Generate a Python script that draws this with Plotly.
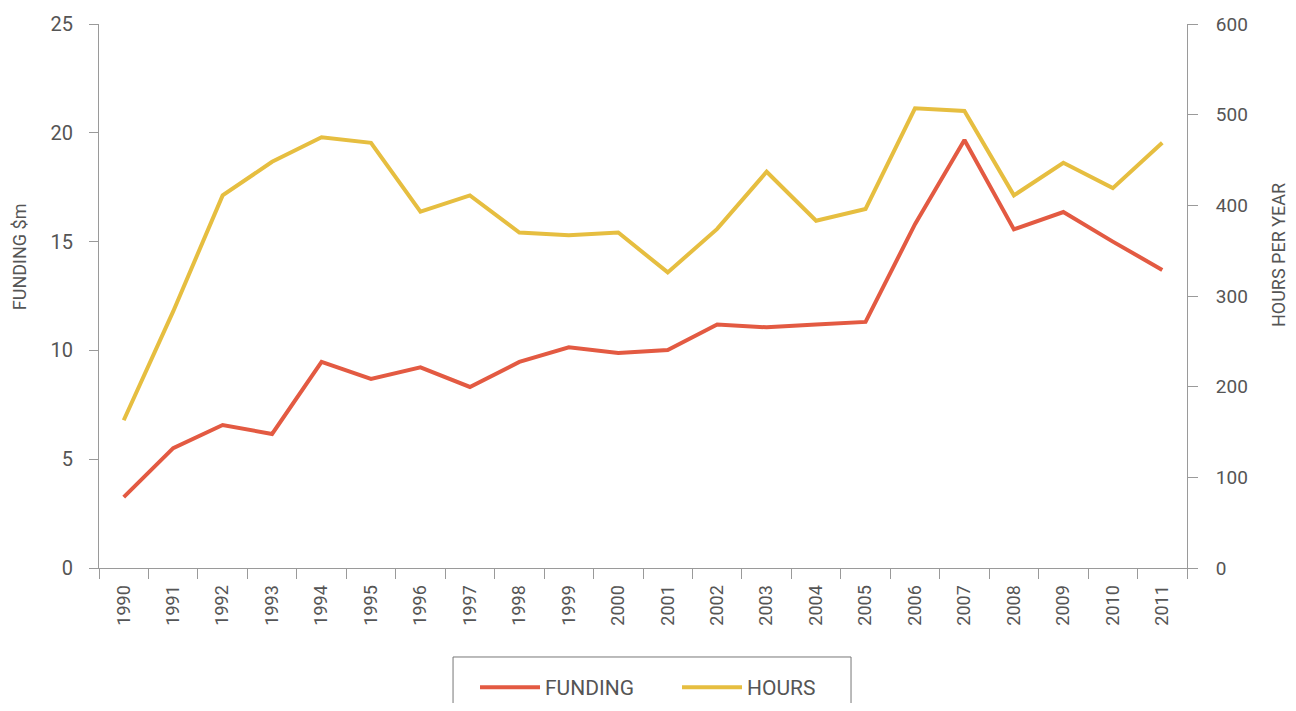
import plotly.graph_objects as go

years = [str(y) for y in range(1990, 2012)]
funding = [3.26, 5.51, 6.57, 6.16, 9.47, 8.69, 9.22, 8.32, 9.47, 10.14, 9.88, 10.02,
           11.19, 11.06, 11.19, 11.31, 15.8, 19.67, 15.56, 16.36, 15.0, 13.7]
hours = [163, 283, 411, 448, 475, 469, 393, 411, 370, 367, 370, 326,
         374, 437, 383, 396, 507, 504, 411, 447, 419, 469]

RED = "#E35A42"
YEL = "#E6BE40"
GREY_TXT = "#555555"
AXIS = "#9a9a9a"
FONT = "Roboto"

fig = go.Figure()
fig.add_trace(go.Scatter(x=years, y=funding, name="FUNDING", mode="lines",
                         line=dict(color=RED, width=4), yaxis="y"))
fig.add_trace(go.Scatter(x=years, y=hours, name="HOURS", mode="lines",
                         line=dict(color=YEL, width=4), yaxis="y2"))

fig.update_layout(
    width=1280, height=695,
    margin=dict(l=91, r=101, t=16, b=135, autoexpand=False),
    paper_bgcolor="white", plot_bgcolor="white",
    font=dict(family=FONT, size=18, color=GREY_TXT),
    xaxis=dict(type="category", tickson="boundaries", ticks="outside", ticklen=10,
               range=[-0.5, len(years) - 0.5],
               tickcolor=AXIS, showline=True, linecolor=AXIS, linewidth=1,
               tickangle=-90, showgrid=False, zeroline=False, ticklabelstandoff=9,
               tickfont=dict(size=18, color=GREY_TXT), automargin=False),
    yaxis=dict(range=[0, 25], dtick=5, ticks="outside", ticklen=9, tickcolor=AXIS,
               showline=True, linecolor=AXIS, linewidth=1, showgrid=False, zeroline=False,
               ticklabelstandoff=12,
               tickfont=dict(size=20, color=GREY_TXT), automargin=False),
    yaxis2=dict(range=[0, 600], dtick=100, overlaying="y", side="right", ticks="outside",
                ticklen=10, tickcolor=AXIS, showline=True, linecolor=AXIS, linewidth=1,
                showgrid=False, zeroline=False, ticklabelstandoff=14,
                tickfont=dict(size=19, color=GREY_TXT), automargin=False),
    legend=dict(orientation="h", x=0.3456, xanchor="left", y=-0.182, yanchor="top",
                borderwidth=0, bgcolor="rgba(0,0,0,0)",
                font=dict(size=21, color=GREY_TXT), itemwidth=60,
                entrywidth=127),
    showlegend=True,
    shapes=[dict(type="rect", xref="paper", yref="paper", x0=0.3254, x1=0.6912,
                 y0=-0.6, y1=-0.1636, line=dict(color="#777777", width=1),
                 fillcolor="rgba(0,0,0,0)", layer="below")],
    annotations=[
        dict(text="FUNDING $m", xref="paper", yref="paper", x=-0.0724, y=0.5717,
             textangle=-90, showarrow=False, xanchor="center", yanchor="middle",
             font=dict(size=18, color=GREY_TXT)),
        dict(text="HOURS PER YEAR", xref="paper", yref="paper", x=1.0846, y=0.5754,
             textangle=-90, showarrow=False, xanchor="center", yanchor="middle",
             font=dict(size=18, color=GREY_TXT)),
    ],
)

fig.write_html("out.html")
